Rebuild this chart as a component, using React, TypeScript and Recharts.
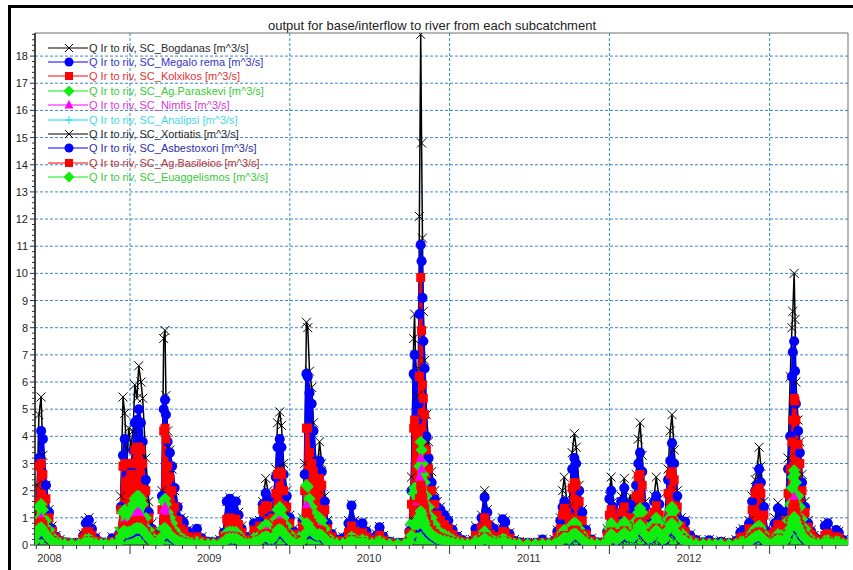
import { Fragment } from "react";
import { ComposedChart, Line, Area, XAxis, YAxis, CartesianGrid, ReferenceArea } from "recharts";

const FONT = "Arial, 'Liberation Sans', sans-serif";
const DAY_MS = 86400000;
// day 0 of the series = 29 May 2008
const START = Date.UTC(2008, 4, 29);
const LAST_DAY = 1857;

// simulation day of each sample (dense around the flow events)
const DAYS = [
  0, 5, 9, 14, 18, 25, 32, 39, 48, 57, 68,
  84, 100,
  110, 116, 123, 130, 139, 151,
  162, 176, 185,
  192, 196, 201, 205, 210, 214, 219, 224, 228, 233, 237, 242, 246, 253, 260, 267, 276,
  285, 290, 294, 297, 299, 303, 308, 313, 319, 326, 333, 340, 349, 358, 370, 381, 395,
  408, 422,
  431, 438, 445, 452, 459, 465, 472, 481, 490,
  500, 506, 513, 520, 527, 532, 536, 543, 550, 554, 559, 563, 568, 575, 582, 591, 602,
  611, 616, 620, 623, 627, 632, 636, 641, 646, 650, 655, 662, 668, 678, 689,
  703, 716, 723, 730, 739, 748, 757, 769, 780, 787, 796, 810, 828, 844,
  855, 860, 865, 867, 869, 874, 876, 878, 881, 883, 885, 887, 890, 894, 899, 906, 913, 919, 926, 935, 944, 954, 965, 976, 988,
  999, 1006, 1013, 1020, 1027, 1033, 1040, 1049, 1059, 1068, 1074, 1084, 1095, 1106,
  1125, 1143, 1159, 1173,
  1186, 1193, 1200, 1205, 1209, 1214, 1220, 1227, 1232, 1236, 1243, 1250, 1259, 1271, 1284,
  1298,
  1307, 1312, 1316, 1321, 1328, 1335, 1339, 1346, 1353, 1360, 1366, 1373, 1378, 1382, 1387, 1394, 1401, 1408, 1414, 1419, 1426, 1433, 1439, 1446, 1451, 1455, 1460, 1467, 1476, 1485, 1497, 1510,
  1526, 1540, 1554, 1567, 1585, 1601,
  1611, 1617, 1624, 1631, 1638, 1645, 1649, 1654, 1658, 1665, 1672, 1681,
  1690, 1697, 1704, 1711, 1715, 1720, 1725, 1729, 1731, 1734, 1736, 1738, 1743, 1747, 1752, 1759, 1766, 1773, 1779, 1789,
  1798, 1804, 1811, 1820, 1830, 1836, 1846, 1857,
];

const BOGDANAS = [
  0.9, 2.2, 4.8, 5.45, 3.3, 2.2, 1.3, 0.7, 0.35, 0.2, 0.12,
  0.1, 0.1,
  0.4, 0.9, 1.0, 0.7, 0.3, 0.12,
  0.1, 0.3, 0.15,
  0.5, 1.8, 5.45, 4.85, 3.0, 4.3, 3.6, 4.2, 5.9, 5.4, 6.6, 6.0, 5.4, 3.2, 1.6, 0.8, 0.45,
  0.5, 2.0, 7.6, 7.9, 5.5, 4.2, 3.5, 2.8, 2.0, 1.4, 1.0, 0.9, 0.55, 0.35, 0.6, 0.3, 0.15,
  0.12, 0.2,
  0.5, 1.6, 1.75, 1.5, 1.65, 1.2, 0.7, 0.35, 0.2,
  0.85, 0.7, 0.9, 1.6, 2.45, 2.0, 1.2, 1.3, 2.8, 4.5, 4.9, 4.4, 3.0, 2.0, 1.1, 0.6, 0.3,
  1.0, 3.0, 8.2, 8.0, 6.4, 5.8, 4.5, 3.2, 3.0, 3.8, 3.0, 1.8, 0.9, 0.45, 0.25,
  0.3, 0.9, 1.5, 0.9, 0.5, 0.85, 0.55, 0.3, 0.4, 0.68, 0.35, 0.15, 0.1, 0.1,
  0.6, 2.5, 7.6, 8.5, 7.0, 5.5, 6.5, 12.1, 18.8, 14.8, 11.3, 8.6, 6.8, 4.8, 3.8, 2.7, 2.0, 1.6, 1.4, 1.1, 0.9, 0.6, 0.35, 0.2, 0.12,
  0.2, 0.7, 0.55, 1.1, 2.0, 1.3, 0.8, 0.6, 0.5, 1.0, 0.9, 0.45, 0.2, 0.12,
  0.1, 0.1, 0.22, 0.1,
  0.2, 0.55, 1.0, 2.0, 2.5, 1.7, 1.4, 3.4, 4.1, 3.6, 2.2, 1.3, 0.6, 0.25, 0.12,
  0.1,
  0.6, 1.8, 2.5, 1.6, 0.7, 1.2, 1.8, 2.45, 1.5, 1.8, 1.4, 2.6, 3.9, 4.5, 3.3, 1.6, 0.9, 1.0, 1.8, 2.5, 1.7, 0.7, 0.9, 2.8, 4.2, 4.8, 3.5, 2.0, 1.0, 0.9, 0.4, 0.2,
  0.12, 0.2, 0.1, 0.15, 0.1, 0.2,
  0.5, 0.6, 0.4, 0.9, 1.8, 2.4, 2.7, 3.6, 2.9, 1.6, 0.6, 0.25,
  1.0, 1.55, 1.1, 0.7, 1.3, 3.2, 6.2, 8.0, 8.6, 10.0, 8.3, 6.0, 4.6, 3.8, 2.6, 1.6, 0.9, 0.55, 0.35, 0.2,
  0.25, 0.75, 0.85, 0.4, 0.55, 0.5, 0.2, 0.1,
];

const MEGALO_REMA = [
  0.6, 1.6, 3.2, 4.2, 3.9, 2.2, 1.2, 0.6, 0.3, 0.15, 0.1,
  0.07, 0.08,
  0.35, 0.8, 0.92, 0.6, 0.25, 0.1,
  0.07, 0.25, 0.1,
  0.4, 1.4, 3.3, 3.9, 2.6, 2.9, 2.8, 3.5, 4.5, 4.6, 5.0, 4.5, 3.8, 2.4, 1.2, 0.6, 0.35,
  0.45, 1.8, 5.0, 5.35, 4.8, 3.8, 3.4, 2.9, 2.1, 1.4, 0.95, 0.82, 0.5, 0.3, 0.6, 0.25, 0.12,
  0.1, 0.15,
  0.45, 1.6, 1.7, 1.4, 1.6, 1.1, 0.6, 0.3, 0.15,
  0.8, 0.65, 0.85, 1.5, 1.9, 1.7, 1.1, 1.2, 2.5, 3.6, 3.9, 3.6, 2.6, 1.8, 1.0, 0.5, 0.25,
  0.9, 2.6, 6.3, 6.2, 5.6, 5.2, 4.2, 3.0, 2.8, 3.1, 2.7, 1.6, 0.8, 0.4, 0.2,
  0.25, 0.8, 1.45, 0.8, 0.45, 0.8, 0.5, 0.25, 0.35, 0.65, 0.3, 0.12, 0.08, 0.08,
  0.5, 2.0, 6.3, 7.0, 6.2, 4.6, 5.2, 8.5, 11.05, 10.45, 9.1, 7.5, 6.5, 4.0, 3.2, 2.3, 1.7, 1.4, 1.3, 1.1, 0.9, 0.55, 0.3, 0.18, 0.1,
  0.15, 0.6, 0.5, 1.0, 1.75, 1.2, 0.7, 0.6, 0.45, 0.95, 0.85, 0.4, 0.15, 0.1,
  0.08, 0.08, 0.2, 0.08,
  0.15, 0.5, 0.9, 1.4, 1.6, 1.3, 1.2, 2.8, 3.2, 3.0, 2.0, 1.2, 0.55, 0.2, 0.1,
  0.08,
  0.5, 1.7, 2.0, 1.4, 0.6, 1.1, 1.6, 2.1, 1.4, 1.5, 1.2, 2.2, 3.0, 3.4, 2.7, 1.4, 0.8, 0.9, 1.6, 1.8, 1.5, 0.6, 0.8, 2.4, 3.1, 3.75, 3.0, 1.8, 0.9, 0.85, 0.35, 0.18,
  0.1, 0.17, 0.08, 0.12, 0.08, 0.15,
  0.45, 0.55, 0.35, 0.8, 1.6, 2.0, 2.2, 2.8, 2.3, 1.4, 0.5, 0.2,
  0.8, 1.35, 0.9, 0.6, 1.2, 2.8, 4.0, 6.2, 7.1, 7.5, 6.4, 5.2, 4.2, 3.4, 2.3, 1.4, 0.8, 0.5, 0.3, 0.18,
  0.2, 0.7, 0.8, 0.35, 0.55, 0.45, 0.18, 0.08,
];

const KOLXIKOS = [
  0.5, 1.6, 2.9, 3.0, 2.6, 1.7, 1.0, 0.5, 0.25, 0.12, 0.08,
  0.05, 0.05,
  0.25, 0.45, 0.5, 0.35, 0.15, 0.07,
  0.05, 0.12, 0.06,
  0.3, 1.3, 2.9, 3.0, 2.3, 2.4, 2.6, 3.0, 3.5, 3.6, 3.6, 3.5, 3.0, 2.0, 1.0, 0.5, 0.3,
  0.3, 1.3, 4.2, 4.3, 3.9, 2.9, 2.5, 2.0, 1.4, 0.9, 0.6, 0.5, 0.3, 0.2, 0.3, 0.15, 0.08,
  0.06, 0.08,
  0.35, 0.95, 1.0, 0.95, 0.95, 0.75, 0.45, 0.2, 0.1,
  0.55, 0.5, 0.7, 1.3, 1.45, 1.4, 0.9, 1.0, 1.9, 2.6, 2.7, 2.6, 2.0, 1.4, 0.8, 0.4, 0.2,
  0.7, 2.0, 4.3, 4.3, 3.4, 3.0, 2.7, 2.3, 2.2, 2.45, 2.2, 1.3, 0.6, 0.3, 0.15,
  0.15, 0.45, 0.7, 0.5, 0.3, 0.45, 0.3, 0.15, 0.2, 0.35, 0.18, 0.08, 0.05, 0.05,
  0.4, 1.5, 4.3, 4.6, 4.2, 3.8, 4.0, 6.2, 9.85, 7.9, 5.9, 5.4, 4.8, 3.5, 2.8, 2.0, 1.5, 1.1, 0.9, 0.75, 0.6, 0.38, 0.2, 0.12, 0.07,
  0.1, 0.35, 0.35, 0.65, 1.0, 0.75, 0.4, 0.3, 0.3, 0.5, 0.45, 0.25, 0.1, 0.06,
  0.05, 0.05, 0.1, 0.05,
  0.1, 0.3, 0.6, 1.1, 1.35, 1.2, 1.0, 2.1, 2.3, 2.2, 1.6, 0.9, 0.4, 0.15, 0.07,
  0.05,
  0.35, 1.1, 1.3, 1.0, 0.45, 0.8, 1.2, 1.4, 1.0, 1.0, 0.9, 1.8, 2.5, 2.6, 2.2, 1.1, 0.6, 0.7, 1.2, 1.45, 1.1, 0.45, 0.6, 1.9, 2.6, 2.7, 2.4, 1.4, 0.7, 0.5, 0.2, 0.1,
  0.06, 0.08, 0.05, 0.06, 0.05, 0.08,
  0.25, 0.3, 0.25, 0.6, 1.3, 1.9, 2.0, 2.1, 1.9, 1.1, 0.4, 0.15,
  0.5, 0.75, 0.65, 0.45, 0.9, 1.9, 2.8, 3.8, 4.6, 5.4, 5.3, 4.6, 3.7, 3.0, 2.0, 1.2, 0.65, 0.4, 0.25, 0.15,
  0.12, 0.35, 0.42, 0.2, 0.3, 0.25, 0.1, 0.05,
];

const AG_PARASKEVI = [
  0.3, 0.9, 1.4, 1.5, 1.3, 0.9, 0.55, 0.3, 0.15, 0.08, 0.05,
  0.04, 0.04,
  0.1, 0.2, 0.22, 0.15, 0.08, 0.04,
  0.04, 0.06, 0.04,
  0.15, 0.6, 1.2, 1.3, 1.1, 1.2, 1.3, 1.5, 1.7, 1.8, 1.8, 1.7, 1.5, 1.0, 0.55, 0.3, 0.15,
  0.2, 0.6, 1.6, 1.7, 1.5, 1.2, 1.0, 0.8, 0.55, 0.38, 0.25, 0.2, 0.12, 0.08, 0.12, 0.06, 0.04,
  0.04, 0.05,
  0.15, 0.45, 0.5, 0.48, 0.48, 0.38, 0.22, 0.1, 0.05,
  0.25, 0.25, 0.35, 0.65, 0.75, 0.72, 0.5, 0.55, 0.95, 1.3, 1.4, 1.3, 1.0, 0.7, 0.4, 0.2, 0.1,
  0.4, 1.0, 2.2, 2.15, 1.7, 1.4, 1.2, 1.0, 0.95, 1.0, 0.9, 0.6, 0.3, 0.15, 0.07,
  0.07, 0.2, 0.3, 0.22, 0.14, 0.2, 0.14, 0.07, 0.1, 0.15, 0.08, 0.04, 0.03, 0.03,
  0.25, 0.8, 1.9, 2.1, 2.0, 2.0, 2.2, 2.9, 3.8, 3.5, 3.0, 2.6, 2.3, 1.8, 1.4, 1.0, 0.75, 0.55, 0.45, 0.38, 0.3, 0.2, 0.1, 0.06, 0.04,
  0.05, 0.15, 0.15, 0.3, 0.5, 0.35, 0.2, 0.14, 0.14, 0.22, 0.2, 0.1, 0.05, 0.04,
  0.03, 0.03, 0.05, 0.03,
  0.05, 0.15, 0.28, 0.45, 0.55, 0.5, 0.45, 0.75, 0.82, 0.78, 0.6, 0.38, 0.18, 0.07, 0.04,
  0.03,
  0.2, 0.6, 0.8, 0.65, 0.35, 0.5, 0.7, 0.85, 0.65, 0.6, 0.55, 0.9, 1.2, 1.35, 1.2, 0.7, 0.45, 0.5, 0.8, 1.0, 0.8, 0.4, 0.45, 0.95, 1.3, 1.4, 1.25, 0.8, 0.45, 0.3, 0.12, 0.06,
  0.04, 0.04, 0.03, 0.04, 0.03, 0.04,
  0.1, 0.12, 0.1, 0.25, 0.45, 0.6, 0.65, 0.7, 0.62, 0.4, 0.16, 0.07,
  0.25, 0.4, 0.35, 0.25, 0.45, 0.9, 1.5, 2.1, 2.5, 2.75, 2.6, 2.3, 1.8, 1.4, 0.95, 0.6, 0.32, 0.2, 0.12, 0.07,
  0.05, 0.15, 0.18, 0.09, 0.13, 0.11, 0.05, 0.03,
];

const NIMFIS = [
  0.2, 0.6, 0.9, 1.0, 0.85, 0.6, 0.35, 0.2, 0.1, 0.05, 0.03,
  0.02, 0.02,
  0.06, 0.1, 0.12, 0.08, 0.04, 0.02,
  0.02, 0.03, 0.02,
  0.1, 0.35, 0.75, 0.8, 0.7, 0.75, 0.8, 0.95, 1.1, 1.2, 1.2, 1.1, 0.95, 0.65, 0.35, 0.2, 0.1,
  0.12, 0.45, 1.3, 1.4, 1.2, 0.9, 0.7, 0.55, 0.38, 0.25, 0.16, 0.13, 0.08, 0.05, 0.07, 0.04, 0.02,
  0.02, 0.03,
  0.1, 0.3, 0.35, 0.33, 0.33, 0.25, 0.15, 0.07, 0.03,
  0.15, 0.15, 0.22, 0.4, 0.5, 0.48, 0.32, 0.35, 0.6, 0.85, 0.9, 0.85, 0.65, 0.45, 0.25, 0.13, 0.06,
  0.25, 0.6, 1.45, 1.4, 1.1, 0.9, 0.75, 0.6, 0.55, 0.6, 0.55, 0.35, 0.18, 0.09, 0.04,
  0.04, 0.12, 0.18, 0.13, 0.08, 0.12, 0.08, 0.04, 0.06, 0.09, 0.05, 0.02, 0.02, 0.02,
  0.15, 0.5, 1.3, 1.4, 1.35, 1.3, 1.5, 2.5, 3.2, 2.8, 2.3, 1.9, 1.6, 1.2, 0.9, 0.65, 0.48, 0.35, 0.28, 0.22, 0.18, 0.12, 0.06, 0.04, 0.02,
  0.03, 0.09, 0.09, 0.18, 0.3, 0.22, 0.12, 0.08, 0.08, 0.13, 0.12, 0.06, 0.03, 0.02,
  0.02, 0.02, 0.03, 0.02,
  0.03, 0.09, 0.17, 0.28, 0.35, 0.32, 0.28, 0.45, 0.5, 0.48, 0.38, 0.24, 0.11, 0.04, 0.02,
  0.02,
  0.1, 0.35, 0.45, 0.38, 0.2, 0.3, 0.4, 0.5, 0.38, 0.35, 0.32, 0.55, 0.75, 0.85, 0.72, 0.42, 0.26, 0.3, 0.5, 0.6, 0.48, 0.23, 0.27, 0.6, 0.82, 0.9, 0.78, 0.48, 0.26, 0.17, 0.07, 0.03,
  0.02, 0.02, 0.02, 0.02, 0.02, 0.02,
  0.05, 0.07, 0.06, 0.15, 0.3, 0.4, 0.45, 0.5, 0.42, 0.25, 0.1, 0.04,
  0.15, 0.25, 0.22, 0.15, 0.28, 0.55, 0.9, 1.3, 1.6, 1.77, 1.6, 1.4, 1.1, 0.85, 0.58, 0.36, 0.2, 0.12, 0.07, 0.04,
  0.03, 0.09, 0.1, 0.05, 0.07, 0.06, 0.03, 0.02,
];

const ANALIPSI = [
  0.15, 0.4, 0.6, 0.65, 0.55, 0.4, 0.25, 0.14, 0.07, 0.04, 0.02,
  0.02, 0.02,
  0.04, 0.07, 0.08, 0.06, 0.03, 0.02,
  0.02, 0.02, 0.02,
  0.07, 0.25, 0.5, 0.55, 0.45, 0.5, 0.55, 0.65, 0.75, 0.8, 0.8, 0.75, 0.65, 0.45, 0.25, 0.13, 0.07,
  0.08, 0.3, 0.8, 0.85, 0.75, 0.55, 0.45, 0.35, 0.25, 0.16, 0.1, 0.08, 0.05, 0.03, 0.04, 0.02, 0.02,
  0.02, 0.02,
  0.06, 0.18, 0.2, 0.2, 0.2, 0.15, 0.09, 0.05, 0.02,
  0.09, 0.09, 0.13, 0.25, 0.3, 0.28, 0.2, 0.22, 0.38, 0.55, 0.6, 0.55, 0.42, 0.28, 0.16, 0.08, 0.04,
  0.15, 0.4, 0.9, 0.88, 0.7, 0.55, 0.45, 0.38, 0.35, 0.38, 0.34, 0.22, 0.11, 0.06, 0.03,
  0.03, 0.08, 0.12, 0.09, 0.05, 0.08, 0.05, 0.03, 0.04, 0.06, 0.03, 0.02, 0.02, 0.02,
  0.1, 0.3, 0.85, 0.9, 0.88, 0.85, 1.0, 1.6, 2.0, 1.8, 1.5, 1.25, 1.05, 0.8, 0.6, 0.42, 0.32, 0.24, 0.19, 0.15, 0.12, 0.08, 0.04, 0.03, 0.02,
  0.02, 0.06, 0.06, 0.12, 0.2, 0.14, 0.08, 0.05, 0.05, 0.08, 0.07, 0.04, 0.02, 0.02,
  0.02, 0.02, 0.02, 0.02,
  0.02, 0.06, 0.1, 0.17, 0.2, 0.19, 0.17, 0.28, 0.31, 0.3, 0.23, 0.14, 0.07, 0.03, 0.02,
  0.02,
  0.07, 0.2, 0.27, 0.22, 0.12, 0.18, 0.24, 0.3, 0.23, 0.21, 0.19, 0.33, 0.45, 0.5, 0.43, 0.25, 0.16, 0.18, 0.3, 0.36, 0.29, 0.14, 0.16, 0.36, 0.49, 0.54, 0.47, 0.29, 0.16, 0.1, 0.04, 0.02,
  0.02, 0.02, 0.02, 0.02, 0.02, 0.02,
  0.04, 0.05, 0.04, 0.1, 0.18, 0.24, 0.27, 0.3, 0.25, 0.15, 0.06, 0.03,
  0.1, 0.16, 0.14, 0.1, 0.18, 0.35, 0.58, 0.82, 1.0, 1.1, 1.0, 0.88, 0.7, 0.54, 0.37, 0.23, 0.13, 0.08, 0.05, 0.03,
  0.02, 0.06, 0.07, 0.03, 0.05, 0.04, 0.02, 0.02,
];

const XORTIATIS = [
  0.15, 0.4, 0.7, 0.75, 0.6, 0.4, 0.25, 0.14, 0.08, 0.04, 0.03,
  0.02, 0.02,
  0.05, 0.08, 0.09, 0.06, 0.03, 0.02,
  0.02, 0.03, 0.02,
  0.08, 0.3, 0.6, 0.62, 0.5, 0.55, 0.6, 0.7, 0.8, 0.85, 0.85, 0.8, 0.7, 0.5, 0.28, 0.15, 0.08,
  0.08, 0.3, 0.8, 0.85, 0.75, 0.55, 0.45, 0.35, 0.25, 0.17, 0.11, 0.09, 0.06, 0.04, 0.05, 0.03, 0.02,
  0.02, 0.02,
  0.06, 0.2, 0.22, 0.2, 0.21, 0.16, 0.1, 0.05, 0.03,
  0.1, 0.1, 0.14, 0.27, 0.33, 0.3, 0.21, 0.23, 0.4, 0.6, 0.65, 0.6, 0.45, 0.3, 0.17, 0.09, 0.05,
  0.15, 0.4, 0.95, 0.9, 0.72, 0.58, 0.48, 0.4, 0.37, 0.4, 0.36, 0.23, 0.12, 0.06, 0.03,
  0.03, 0.09, 0.13, 0.09, 0.06, 0.08, 0.06, 0.03, 0.04, 0.06, 0.03, 0.02, 0.02, 0.02,
  0.1, 0.3, 0.85, 0.9, 0.85, 0.8, 0.95, 1.3, 1.7, 1.5, 1.3, 1.1, 0.95, 0.75, 0.6, 0.45, 0.35, 0.27, 0.22, 0.18, 0.14, 0.09, 0.05, 0.03, 0.02,
  0.02, 0.06, 0.06, 0.13, 0.22, 0.15, 0.09, 0.06, 0.06, 0.09, 0.08, 0.04, 0.02, 0.02,
  0.02, 0.02, 0.02, 0.02,
  0.02, 0.06, 0.11, 0.18, 0.22, 0.2, 0.18, 0.3, 0.34, 0.32, 0.25, 0.15, 0.07, 0.03, 0.02,
  0.02,
  0.07, 0.22, 0.3, 0.24, 0.13, 0.2, 0.26, 0.33, 0.25, 0.23, 0.21, 0.36, 0.5, 0.56, 0.47, 0.27, 0.17, 0.2, 0.33, 0.4, 0.32, 0.15, 0.18, 0.4, 0.54, 0.6, 0.52, 0.32, 0.17, 0.11, 0.05, 0.03,
  0.02, 0.02, 0.02, 0.02, 0.02, 0.02,
  0.04, 0.05, 0.04, 0.1, 0.2, 0.26, 0.3, 0.35, 0.28, 0.16, 0.07, 0.03,
  0.1, 0.18, 0.15, 0.1, 0.2, 0.38, 0.6, 0.85, 1.05, 1.2, 1.05, 0.9, 0.72, 0.56, 0.38, 0.24, 0.13, 0.08, 0.05, 0.03,
  0.02, 0.06, 0.07, 0.04, 0.05, 0.04, 0.02, 0.02,
];

const ASBESTOXORI = [
  0.12, 0.34, 0.5, 0.55, 0.47, 0.34, 0.21, 0.12, 0.06, 0.03, 0.03,
  0.03, 0.03,
  0.05, 0.08, 0.09, 0.07, 0.03, 0.03,
  0.03, 0.03, 0.03,
  0.07, 0.25, 0.42, 0.44, 0.38, 0.4, 0.42, 0.47, 0.51, 0.53, 0.53, 0.51, 0.47, 0.34, 0.21, 0.12, 0.06,
  0.08, 0.25, 0.51, 0.53, 0.49, 0.38, 0.32, 0.25, 0.19, 0.13, 0.08, 0.07, 0.04, 0.03, 0.04, 0.03, 0.03,
  0.03, 0.03,
  0.07, 0.19, 0.21, 0.2, 0.2, 0.15, 0.08, 0.04, 0.03,
  0.1, 0.1, 0.14, 0.24, 0.27, 0.25, 0.19, 0.2, 0.34, 0.47, 0.49, 0.47, 0.36, 0.25, 0.14, 0.08, 0.04,
  0.13, 0.34, 0.68, 0.66, 0.55, 0.47, 0.38, 0.32, 0.31, 0.34, 0.31, 0.2, 0.1, 0.06, 0.03,
  0.03, 0.08, 0.13, 0.09, 0.06, 0.08, 0.06, 0.03, 0.04, 0.07, 0.03, 0.03, 0.03, 0.03,
  0.1, 0.3, 0.64, 0.68, 0.66, 0.64, 0.72, 0.9, 1.06, 0.98, 0.85, 0.77, 0.68, 0.53, 0.43, 0.32, 0.26, 0.2, 0.17, 0.14, 0.11, 0.08, 0.04, 0.03, 0.03,
  0.03, 0.07, 0.07, 0.13, 0.21, 0.15, 0.08, 0.06, 0.06, 0.1, 0.08, 0.04, 0.03, 0.03,
  0.03, 0.03, 0.04, 0.03,
  0.03, 0.07, 0.12, 0.19, 0.23, 0.21, 0.19, 0.32, 0.36, 0.34, 0.26, 0.16, 0.08, 0.03, 0.03,
  0.03,
  0.08, 0.25, 0.34, 0.28, 0.15, 0.22, 0.3, 0.38, 0.29, 0.26, 0.24, 0.43, 0.58, 0.64, 0.54, 0.32, 0.2, 0.23, 0.38, 0.47, 0.37, 0.17, 0.2, 0.47, 0.64, 0.68, 0.6, 0.37, 0.2, 0.13, 0.05, 0.03,
  0.03, 0.03, 0.03, 0.03, 0.03, 0.03,
  0.04, 0.05, 0.04, 0.1, 0.19, 0.25, 0.28, 0.31, 0.25, 0.16, 0.07, 0.03,
  0.1, 0.17, 0.14, 0.1, 0.19, 0.36, 0.53, 0.7, 0.81, 0.88, 0.83, 0.72, 0.58, 0.45, 0.31, 0.2, 0.11, 0.07, 0.04, 0.03,
  0.03, 0.07, 0.08, 0.04, 0.06, 0.05, 0.03, 0.03,
];

const AG_BASILEIOS = [
  0.25, 0.6, 0.8, 0.85, 0.75, 0.5, 0.3, 0.17, 0.09, 0.05, 0.03,
  0.03, 0.03,
  0.08, 0.14, 0.16, 0.1, 0.05, 0.03,
  0.03, 0.05, 0.03,
  0.1, 0.35, 0.65, 0.7, 0.6, 0.62, 0.65, 0.75, 0.85, 0.9, 0.9, 0.85, 0.75, 0.5, 0.3, 0.16, 0.08,
  0.1, 0.35, 0.9, 0.95, 0.85, 0.65, 0.55, 0.42, 0.3, 0.2, 0.13, 0.11, 0.07, 0.05, 0.07, 0.04, 0.03,
  0.03, 0.03,
  0.1, 0.3, 0.32, 0.3, 0.3, 0.24, 0.14, 0.07, 0.04,
  0.16, 0.15, 0.2, 0.37, 0.42, 0.4, 0.28, 0.3, 0.55, 0.75, 0.8, 0.75, 0.58, 0.4, 0.23, 0.12, 0.06,
  0.2, 0.55, 1.2, 1.15, 0.95, 0.8, 0.68, 0.55, 0.5, 0.55, 0.5, 0.32, 0.16, 0.08, 0.04,
  0.05, 0.13, 0.2, 0.14, 0.08, 0.13, 0.09, 0.05, 0.06, 0.1, 0.05, 0.03, 0.02, 0.02,
  0.15, 0.45, 1.2, 1.3, 1.25, 1.2, 1.3, 1.7, 2.2, 2.0, 1.75, 1.5, 1.3, 0.95, 0.75, 0.55, 0.42, 0.32, 0.27, 0.22, 0.18, 0.12, 0.06, 0.04, 0.03,
  0.04, 0.1, 0.1, 0.2, 0.3, 0.22, 0.12, 0.09, 0.09, 0.15, 0.13, 0.07, 0.04, 0.03,
  0.02, 0.02, 0.04, 0.02,
  0.04, 0.1, 0.18, 0.3, 0.35, 0.32, 0.3, 0.5, 0.55, 0.52, 0.4, 0.25, 0.12, 0.05, 0.03,
  0.02,
  0.12, 0.38, 0.48, 0.4, 0.22, 0.32, 0.43, 0.52, 0.4, 0.37, 0.34, 0.58, 0.78, 0.85, 0.74, 0.44, 0.28, 0.31, 0.52, 0.62, 0.5, 0.24, 0.28, 0.62, 0.84, 0.9, 0.8, 0.5, 0.27, 0.18, 0.08, 0.04,
  0.02, 0.03, 0.02, 0.03, 0.02, 0.03,
  0.07, 0.08, 0.07, 0.16, 0.3, 0.4, 0.43, 0.48, 0.4, 0.25, 0.1, 0.04,
  0.15, 0.25, 0.2, 0.15, 0.27, 0.55, 0.85, 1.15, 1.35, 1.5, 1.4, 1.2, 0.95, 0.75, 0.52, 0.32, 0.18, 0.11, 0.07, 0.04,
  0.04, 0.1, 0.12, 0.06, 0.08, 0.07, 0.03, 0.02,
];

const EUAGGELISMOS = [
  0.15, 0.4, 0.6, 0.65, 0.55, 0.4, 0.25, 0.14, 0.07, 0.04, 0.03,
  0.03, 0.03,
  0.06, 0.1, 0.11, 0.08, 0.04, 0.03,
  0.03, 0.04, 0.03,
  0.08, 0.3, 0.5, 0.52, 0.45, 0.48, 0.5, 0.55, 0.6, 0.62, 0.62, 0.6, 0.55, 0.4, 0.25, 0.14, 0.07,
  0.1, 0.3, 0.6, 0.62, 0.58, 0.45, 0.38, 0.3, 0.22, 0.15, 0.1, 0.08, 0.05, 0.04, 0.05, 0.03, 0.03,
  0.03, 0.03,
  0.08, 0.22, 0.25, 0.24, 0.24, 0.18, 0.1, 0.05, 0.03,
  0.12, 0.12, 0.16, 0.28, 0.32, 0.3, 0.22, 0.24, 0.4, 0.55, 0.58, 0.55, 0.42, 0.3, 0.17, 0.09, 0.05,
  0.15, 0.4, 0.8, 0.78, 0.65, 0.55, 0.45, 0.38, 0.36, 0.4, 0.36, 0.24, 0.12, 0.07, 0.04,
  0.04, 0.1, 0.15, 0.11, 0.07, 0.1, 0.07, 0.04, 0.05, 0.08, 0.04, 0.03, 0.03, 0.03,
  0.12, 0.35, 0.75, 0.8, 0.78, 0.75, 0.85, 1.05, 1.25, 1.15, 1.0, 0.9, 0.8, 0.62, 0.5, 0.38, 0.3, 0.24, 0.2, 0.16, 0.13, 0.09, 0.05, 0.04, 0.03,
  0.03, 0.08, 0.08, 0.15, 0.25, 0.18, 0.1, 0.07, 0.07, 0.12, 0.1, 0.05, 0.03, 0.03,
  0.03, 0.03, 0.04, 0.03,
  0.03, 0.08, 0.14, 0.22, 0.27, 0.25, 0.22, 0.38, 0.42, 0.4, 0.3, 0.19, 0.09, 0.04, 0.03,
  0.03,
  0.1, 0.3, 0.4, 0.33, 0.18, 0.26, 0.35, 0.45, 0.34, 0.3, 0.28, 0.5, 0.68, 0.75, 0.64, 0.38, 0.24, 0.27, 0.45, 0.55, 0.44, 0.2, 0.24, 0.55, 0.75, 0.8, 0.7, 0.43, 0.23, 0.15, 0.06, 0.03,
  0.03, 0.03, 0.03, 0.03, 0.03, 0.03,
  0.05, 0.06, 0.05, 0.12, 0.22, 0.3, 0.33, 0.36, 0.3, 0.19, 0.08, 0.03,
  0.12, 0.2, 0.17, 0.12, 0.22, 0.42, 0.62, 0.82, 0.95, 1.03, 0.98, 0.85, 0.68, 0.53, 0.37, 0.23, 0.13, 0.08, 0.05, 0.03,
  0.03, 0.08, 0.09, 0.05, 0.07, 0.06, 0.03, 0.03,
];

type Shape = "cross" | "circle" | "square" | "diamond" | "triangle" | "plus";

// fill: the daily markers in the source plot are so dense that they cover the area under each curve
const SERIES: { key: string; name: string; values: number[]; color: string; text: string; shape: Shape; fill: boolean }[] = [
  { key: "bogdanas", name: "Q Ir to riv, SC_Bogdanas [m^3/s]", values: BOGDANAS, color: "#000000", text: "#2a2a2a", shape: "cross", fill: false },
  { key: "megaloRema", name: "Q Ir to riv, SC_Megalo rema [m^3/s]", values: MEGALO_REMA, color: "#0000ff", text: "#3434c4", shape: "circle", fill: true },
  { key: "kolxikos", name: "Q Ir to riv, SC_Kolxikos [m^3/s]", values: KOLXIKOS, color: "#ff0000", text: "#e03434", shape: "square", fill: true },
  { key: "agParaskevi", name: "Q Ir to riv, SC_Ag.Paraskevi [m^3/s]", values: AG_PARASKEVI, color: "#10ee10", text: "#38cc38", shape: "diamond", fill: true },
  { key: "nimfis", name: "Q Ir to riv, SC_Nimfis [m^3/s]", values: NIMFIS, color: "#ff00ff", text: "#d838d8", shape: "triangle", fill: true },
  { key: "analipsi", name: "Q Ir to riv, SC_Analipsi [m^3/s]", values: ANALIPSI, color: "#10e0f0", text: "#48d8e8", shape: "plus", fill: false },
  { key: "xortiatis", name: "Q Ir to riv, SC_Xortiatis [m^3/s]", values: XORTIATIS, color: "#000000", text: "#2a2a2a", shape: "cross", fill: false },
  { key: "asbestoxori", name: "Q Ir to riv, SC_Asbestoxori [m^3/s]", values: ASBESTOXORI, color: "#0000ff", text: "#2c2ca8", shape: "circle", fill: false },
  { key: "agBasileios", name: "Q Ir to riv, SC_Ag.Basileios [m^3/s]", values: AG_BASILEIOS, color: "#ff0000", text: "#c03434", shape: "square", fill: true },
  { key: "euaggelismos", name: "Q Ir to riv, SC_Euaggelismos [m^3/s]", values: EUAGGELISMOS, color: "#10ee10", text: "#38cc38", shape: "diamond", fill: true },
];

const DATA = DAYS.map((day, i) => {
  const row: Record<string, number> = { day };
  SERIES.forEach((s) => (row[s.key] = s.values[i]));
  return row;
});

// axis ticks: month starts (minor), January = year boundary, July carries the year label
const MONTH_TICKS: number[] = [];
for (let y = 2008; y <= 2013; y++) {
  for (let m = 0; m < 12; m++) {
    const d = Math.round((Date.UTC(y, m, 1) - START) / DAY_MS);
    if (d >= 0 && d <= LAST_DAY) MONTH_TICKS.push(d);
  }
}
const YEAR_TICKS = MONTH_TICKS.filter((d) => new Date(START + d * DAY_MS).getUTCMonth() === 0);
const Y_MAX = 18.85;
const Y_TICKS = Array.from({ length: 95 }, (_, i) => i / 5);
const Y_GRID = Array.from({ length: 18 }, (_, i) => i + 1);

function Marker({ shape, cx, cy, color, k = 1 }: { shape: Shape; cx?: number; cy?: number; color: string; k?: number }) {
  if (cx == null || cy == null || isNaN(cy)) return null;
  switch (shape) {
    case "cross": {
      const a = 4 * k;
      return <path d={`M${cx - a},${cy - a}L${cx + a},${cy + a}M${cx - a},${cy + a}L${cx + a},${cy - a}`} stroke={color} strokeWidth={1} fill="none" />;
    }
    case "circle":
      return <circle cx={cx} cy={cy} r={4.5 * k} fill={color} />;
    case "square": {
      const a = 4 * k;
      return <rect x={cx - a} y={cy - a} width={2 * a} height={2 * a} fill={color} />;
    }
    case "diamond": {
      const a = 5.5 * k;
      return <path d={`M${cx},${cy - a}L${cx + a},${cy}L${cx},${cy + a}L${cx - a},${cy}Z`} fill={color} />;
    }
    case "triangle":
      return <path d={`M${cx},${cy - 5 * k}L${cx + 4.5 * k},${cy + 3.5 * k}L${cx - 4.5 * k},${cy + 3.5 * k}Z`} fill={color} />;
    case "plus":
      return <path d={`M${cx},${cy - 4}V${cy + 4}M${cx - 4},${cy}H${cx + 4}`} stroke={color} strokeWidth={1} />;
  }
  return null;
}

function MonthTick({ x, y, payload }: any) {
  const date = new Date(START + payload.value * DAY_MS);
  const m = date.getUTCMonth();
  return (
    <g>
      <line x1={x} x2={x} y1={y} y2={y + (m === 0 ? 9 : 4)} stroke="#333" />
      {m === 6 && (
        <text x={x} y={y + 17} textAnchor="middle" fontSize={11} fontFamily={FONT} fill="#333">
          {date.getUTCFullYear()}
        </text>
      )}
    </g>
  );
}

function ValueTick({ x, y, payload }: any) {
  const v = payload.value as number;
  const major = Math.abs(v - Math.round(v)) < 1e-6;
  return (
    <g>
      <line x1={x - (major ? 5 : 3)} x2={x} y1={y} y2={y} stroke="#333" />
      {major && (
        <text x={x - 7} y={y + 4} textAnchor="end" fontSize={11} fontFamily={FONT} fill="#222">
          {Math.round(v)}
        </text>
      )}
    </g>
  );
}

function LegendBox() {
  return (
    <div style={{ position: "absolute", left: 46, top: 40.5, fontFamily: FONT, fontSize: 11, pointerEvents: "none" }}>
      {SERIES.map((s) => (
        <div key={s.key} style={{ display: "flex", alignItems: "center", height: 14.4, whiteSpace: "nowrap" }}>
          <svg width={43} height={14} style={{ display: "block", overflow: "visible" }}>
            <line x1={2} x2={42} y1={7} y2={7} stroke={s.color} strokeWidth={1} />
            <Marker shape={s.shape} cx={23} cy={7} color={s.color} />
          </svg>
          <span style={{ color: s.text }}>{s.name}</span>
        </div>
      ))}
    </div>
  );
}

export default function App() {
  return (
    <div style={{ position: "absolute", left: 0, top: 0, width: 853, height: 570, overflow: "hidden", background: "#fff" }}>
      <div style={{ position: "absolute", left: 8, top: 5, width: 900, height: 600, borderTop: "3px solid #000", borderLeft: "3px solid #000" }} />
      <div style={{ position: "absolute", left: 0, top: 18, width: 864, textAlign: "center", fontFamily: FONT, fontSize: 13, lineHeight: "16px", color: "#222" }}>
        output for base/interflow to river from each subcatchment
      </div>
      <div style={{ position: "absolute", left: 0, top: 0 }}>
        <ComposedChart width={853} height={570} data={DATA} margin={{ top: 33, right: 5, bottom: 5, left: 0 }}>
          <CartesianGrid stroke="#3f86c2" strokeDasharray="3 2" horizontalValues={Y_GRID} verticalValues={YEAR_TICKS} />
          <XAxis
            dataKey="day"
            type="number"
            domain={[0, LAST_DAY]}
            allowDataOverflow
            ticks={MONTH_TICKS}
            interval={0}
            tick={MonthTick}
            tickLine={false}
            tickSize={0}
            tickMargin={0}
            height={20}
            axisLine={{ stroke: "#333" }}
          />
          <YAxis
            type="number"
            domain={[0, Y_MAX]}
            allowDataOverflow
            ticks={Y_TICKS}
            interval={0}
            tick={ValueTick}
            tickLine={false}
            tickSize={0}
            tickMargin={0}
            width={35}
            axisLine={{ stroke: "#222", strokeWidth: 1.5 }}
          />
          <ReferenceArea x1={0} x2={LAST_DAY} y1={0} y2={Y_MAX} fill="none" stroke="#707070" ifOverflow="visible" />
          {SERIES.map((s) => (
            <Fragment key={s.key}>
              {s.fill && (
                <Area
                  type="linear"
                  dataKey={s.key}
                  name={s.name}
                  stroke="none"
                  fill={s.color}
                  fillOpacity={1}
                  dot={false}
                  activeDot={false}
                  legendType="none"
                  isAnimationActive={false}
                />
              )}
              <Line
                type="linear"
                dataKey={s.key}
                name={s.name}
                stroke={s.color}
                strokeWidth={s.color === "#000000" ? 1.5 : 2.5}
                dot={(p: any) => <Marker key={`${s.key}-${p.index}`} shape={s.shape} cx={p.cx} cy={p.cy} color={s.color} k={1.12} />}
                activeDot={false}
                isAnimationActive={false}
              />
            </Fragment>
          ))}
        </ComposedChart>
      </div>
      <LegendBox />
    </div>
  );
}
